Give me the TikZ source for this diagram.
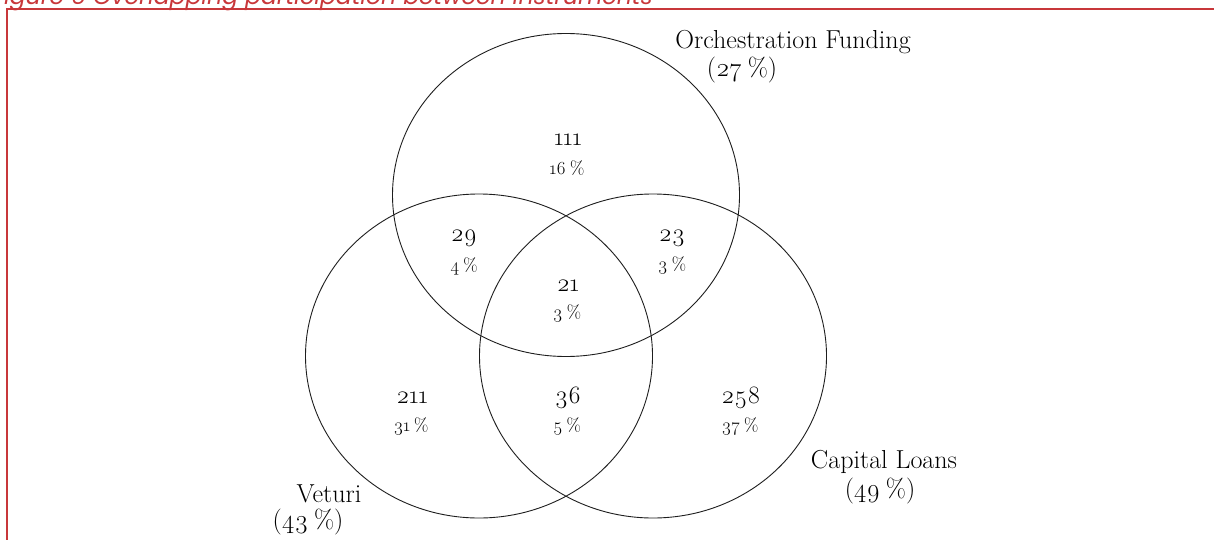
\documentclass[tikz,border=0pt]{standalone}
\usepackage{fontspec}
\setmainfont{Latin Modern Roman}[Numbers=OldStyle]
\newfontfamily\captionfont{Poppins}
\definecolor{framered}{RGB}{200,55,58}
\definecolor{linegray}{RGB}{30,30,30}
\newcommand{\pct}{\hspace{0.22em}\%}
\begin{document}
\begin{tikzpicture}[x=1pt,y=-1pt,
  setcircle/.style={draw=linegray,line width=0.9pt},
  setname/.style={font=\fontsize{26}{30}\selectfont,inner sep=0pt,anchor=center},
  countlbl/.style={font=\fontsize{25}{29}\selectfont,inner sep=0pt,anchor=center},
  sharelbl/.style={font=\fontsize{18.5}{22}\selectfont,inner sep=0pt,anchor=center}]
\useasboundingbox (0,0) rectangle (1214,540);
\fill[white] (0,0) rectangle (1214,540);

% caption (its top lies above the page) and frame
\node[anchor=base west,inner sep=0pt,text=framered,
      font=\captionfont\itshape\fontsize{23.5}{27}\selectfont] (caption) at (-8,5)
  {Figure 6 Overlapping participation between instruments};
\draw[framered,line width=2.4pt] (1216,9) -- (7,9) -- (7,545);

% the three sets
\draw[setcircle] (566,195) ellipse [x radius=173.5,y radius=161.5];
\draw[setcircle] (479,356) ellipse [x radius=173.5,y radius=162];
\draw[setcircle] (653,356) ellipse [x radius=173.5,y radius=162];

% set names
\node[setname] (orch) at (793,42) {Orchestration Funding};
\node[setname] (orchp) at (742,70) {(27\pct)};
\node[setname] (cap) at (884,462) {Capital Loans};
\node[setname] (capp) at (880,491) {(49\pct)};
\node[setname] (vet) at (329,494) {Veturi};
\node[setname] (vetp) at (308,522) {(43\pct)};

% region counts and shares
\node[countlbl] (n1) at (568,140) {111};
\node[sharelbl] (p1) at (567,168) {16\pct};
\node[countlbl] (n2) at (464,238) {29};
\node[sharelbl] (p2) at (464,266) {4\pct};
\node[countlbl] (n3) at (672,238) {23};
\node[sharelbl] (p3) at (672,266) {3\pct};
\node[countlbl] (n4) at (568,286) {21};
\node[sharelbl] (p4) at (567,314) {3\pct};
\node[countlbl] (n5) at (412,398) {211};
\node[sharelbl] (p5) at (411,427) {31\pct};
\node[countlbl] (n6) at (568,398) {36};
\node[sharelbl] (p6) at (567,427) {5\pct};
\node[countlbl] (n7) at (741,398) {258};
\node[sharelbl] (p7) at (740,427) {37\pct};
\end{tikzpicture}
\end{document}
